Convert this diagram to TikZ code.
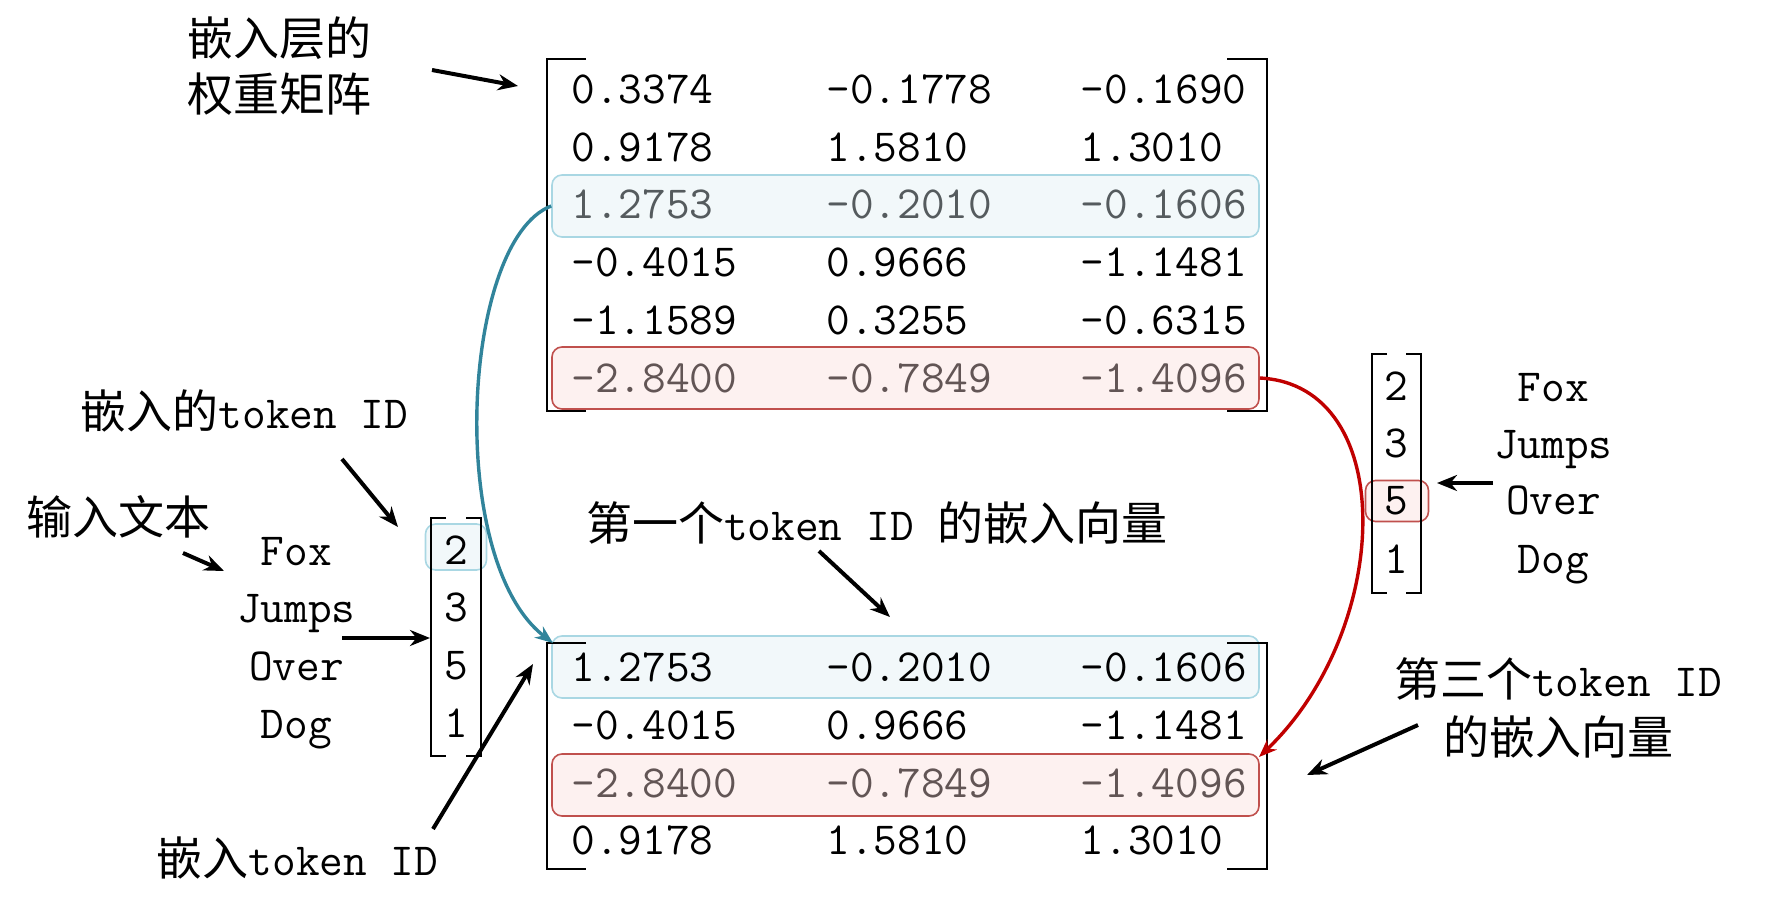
\documentclass[tikz,border=0pt]{standalone}
\usepackage{fontspec}
\newfontfamily\cjk{Noto Sans CJK SC}
\usetikzlibrary{arrows.meta}
\definecolor{hlbline}{HTML}{A9D7E3}
\definecolor{hlbfill}{HTML}{F2F8FA}
\definecolor{hlbtext}{HTML}{555B5E}
\definecolor{hlrline}{HTML}{C0504D}
\definecolor{hlrfill}{HTML}{FDF1F0}
\definecolor{hlrtext}{HTML}{625555}
\definecolor{tealc}{HTML}{31849B}
\definecolor{redc}{HTML}{C00000}
\begin{document}
\begin{tikzpicture}[x=0.5pt,y=-0.5pt,
  every node/.style={font=\fontsize{23}{28}\selectfont\ttfamily, inner sep=0pt},
  num/.style={anchor=west},
  word/.style={anchor=base},
  lbl/.style={align=center},
  ptr/.style={-{Stealth[length=10pt,width=8pt]}, line width=2pt},
  brk/.style={line width=1pt},
  hlb/.style={draw=hlbline, fill=hlbfill, rounded corners=5pt, line width=0.8pt},
  hlr/.style={draw=hlrline, fill=hlrfill, rounded corners=5pt, line width=0.8pt},
  curveb/.style={-{Stealth[length=9pt,width=7pt]}, line width=1.7pt, tealc},
  curver/.style={-{Stealth[length=9pt,width=7pt]}, line width=1.7pt, redc}]
\useasboundingbox (0,0) rectangle (1774,905);

% ---------- highlight boxes ----------
\node[hlb, minimum width=353.5pt, minimum height=31pt] (tb) at (905.5,206) {};
\node[hlr, minimum width=353.5pt, minimum height=31pt] (tr) at (905.5,378) {};
\node[hlb, minimum width=353.5pt, minimum height=31pt] (bb) at (905.5,667) {};
\node[hlr, minimum width=353.5pt, minimum height=31pt] (br) at (905.5,785) {};
\node[hlb, minimum width=30.5pt, minimum height=23pt] (vb) at (456,547) {};
\node[hlr, minimum width=31.5pt, minimum height=20.5pt] (vr) at (1397,501) {};

% ---------- top matrix ----------
\foreach \a/\b/\c/\col [count=\i] in {
  0.3374/-0.1778/-0.1690/black,
  0.9178/1.5810/1.3010/black,
  1.2753/-0.2010/-0.1606/hlbtext,
  -0.4015/0.9666/-1.1481/black,
  -1.1589/0.3255/-0.6315/black,
  -2.8400/-0.7849/-1.4096/hlrtext}{
  \node[num, text=\col] (ta\i) at (571,{89.4+57.7*(\i-1)}) {\a};
  \node[num, text=\col] (tm\i) at (826,{89.4+57.7*(\i-1)}) {\b};
  \node[num, text=\col] (tc\i) at (1080.5,{89.4+57.7*(\i-1)}) {\c};
}
\draw[brk] (586,59) -| (546.5,411) -- (586,411);
\draw[brk] (1227,59) -| (1267,411) -- (1227,411);

% ---------- bottom matrix ----------
\foreach \a/\b/\c/\col [count=\i] in {
  1.2753/-0.2010/-0.1606/black,
  -0.4015/0.9666/-1.1481/black,
  -2.8400/-0.7849/-1.4096/hlrtext,
  0.9178/1.5810/1.3010/black}{
  \node[num, text=\col] (ba\i) at (571,{667.5+57.7*(\i-1)}) {\a};
  \node[num, text=\col] (bm\i) at (826,{667.5+57.7*(\i-1)}) {\b};
  \node[num, text=\col] (bc\i) at (1080.5,{667.5+57.7*(\i-1)}) {\c};
}
\draw[brk] (586,643) -| (546.5,869) -- (586,869);
\draw[brk] (1227,643) -| (1267,869) -- (1227,869);

% ---------- left id vector ----------
\foreach \v/\y [count=\i] in {2/550,3/607.6,5/665.3,1/723}{
  \node (lv\i) at (456,\y) {\v};
}
\draw[brk] (446,518) -| (431,756) -- (446,756);
\draw[brk] (466,518) -| (481,756) -- (466,756);

\foreach \w/\y [count=\i] in {Fox/565,Jumps/622.7,Over/680.4,Dog/738}{
  \node[word] (lw\i) at (296.4,\y) {\w};
}

% ---------- right id vector ----------
\foreach \v/\y [count=\i] in {2/385.8,3/443.5,5/501.2,1/559}{
  \node (rv\i) at (1396,\y) {\v};
}
\draw[brk] (1387,354) -| (1372.4,593) -- (1387,593);
\draw[brk] (1406,354) -| (1421,593) -- (1406,593);

\foreach \w/\y [count=\i] in {Fox/401,Jumps/458.6,Over/514,Dog/573}{
  \node[word] (rw\i) at (1553.4,\y) {\w};
}

% ---------- labels ----------
\node[lbl] (lweights) at (279.5,66) {{\cjk 嵌入层的}\\{\cjk 权重矩阵}};
\node (linput) at (118.8,517) {\cjk 输入文本};
\node (lids) at (244.4,411) {{\cjk 嵌入的}token ID};
\node (lemb) at (297.6,858) {{\cjk 嵌入}token ID};
\node (lfirst) at (876.8,523) {{\cjk 第一个}token ID {\cjk 的嵌入向量}};
\node[lbl] (lthird) at (1558,708) {{\cjk 第三个}token ID\\[1pt]{\cjk 的嵌入向量}};

% ---------- arrow end points ----------
\coordinate (a1s) at (432,70);   \coordinate (a1e) at (518,86);
\coordinate (a2s) at (183,553);  \coordinate (a2e) at (224,571);
\coordinate (a3s) at (342,459);  \coordinate (a3e) at (398,527);
\coordinate (a4s) at (433,829);  \coordinate (a4e) at (533,664);
\coordinate (a5s) at (342,638);  \coordinate (a5e) at (430,638);
\coordinate (a6s) at (819,551);  \coordinate (a6e) at (890,617);
\coordinate (a7s) at (1493,483); \coordinate (a7e) at (1437,483);
\coordinate (a8s) at (1418,725); \coordinate (a8e) at (1307,775);

\draw[ptr] (a1s) -- (a1e);
\draw[ptr] (a2s) -- (a2e);
\draw[ptr] (a3s) -- (a3e);
\draw[ptr] (a4s) -- (a4e);
\draw[ptr] (a5s) -- (a5e);
\draw[ptr] (a6s) -- (a6e);
\draw[ptr] (a7s) -- (a7e);
\draw[ptr] (a8s) -- (a8e);

% ---------- curves ----------
\coordinate (cbe) at (553,643);
\coordinate (cre) at (1259,757);
\draw[curveb] (tb.west) .. controls (462,240) and (445,560) .. (cbe);
\draw[curver] (tr.east) .. controls (1400,385) and (1392,630) .. (cre);
\end{tikzpicture}
\end{document}
